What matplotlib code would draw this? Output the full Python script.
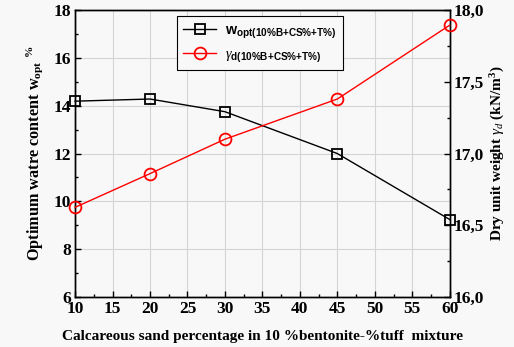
import matplotlib
matplotlib.use("Agg")
import matplotlib.pyplot as plt
from matplotlib.ticker import MultipleLocator, FuncFormatter
from matplotlib.lines import Line2D

sand = [10, 20, 30, 45, 60]
w_opt = [14.19, 14.28, 13.75, 12.0, 9.24]
gamma_d = [16.625, 16.86, 17.10, 17.38, 17.895]

serif = "Liberation Serif"
sans = "Liberation Sans"
plt.rcParams["mathtext.fontset"] = "custom"
plt.rcParams["mathtext.rm"] = serif
plt.rcParams["mathtext.it"] = serif + ":italic"
plt.rcParams["mathtext.bf"] = serif + ":bold"
plt.rcParams["mathtext.sf"] = sans + ":bold"

fig = plt.figure(figsize=(5.14, 3.47), dpi=100)
fig.patch.set_facecolor("#f8f8f8")
ax = fig.add_axes([0.146, 0.144, 0.729, 0.827])
ax.set_facecolor("#f8f8f8")
ax2 = ax.twinx()

ax.plot(sand, w_opt, color="black", lw=1.0, marker="s", ms=7.5, mfc="none", mec="black", mew=1.3, clip_on=False, zorder=3)
ax2.plot(sand, gamma_d, color="red", lw=1.0, marker="o", ms=8.5, mfc="none", mec="red", mew=1.3, clip_on=False, zorder=3)

ax.set_xlim(10, 60)
ax.set_ylim(6, 18)
ax2.set_ylim(16, 18)

ax.xaxis.set_major_locator(MultipleLocator(5))
ax.xaxis.set_minor_locator(MultipleLocator(2.5))
ax.yaxis.set_major_locator(MultipleLocator(2))
ax.yaxis.set_minor_locator(MultipleLocator(1))
ax2.yaxis.set_major_locator(MultipleLocator(0.5))
ax2.yaxis.set_minor_locator(MultipleLocator(0.25))
ax2.yaxis.set_major_formatter(FuncFormatter(lambda v, p: f"{v:.1f}".replace(".", ",")))

ax.grid(True, which="major", color="#d4d4d4", lw=0.8)
ax.set_axisbelow(True)

for a in (ax, ax2):
    a.tick_params(which="major", direction="in", length=4, width=1, pad=3)
    a.tick_params(which="minor", direction="in", length=2, width=1)
    for s in a.spines.values():
        s.set_linewidth(1.0)
ax.tick_params(top=False, which="both")

for lab in ax.get_xticklabels() + ax.get_yticklabels() + ax2.get_yticklabels():
    lab.set_fontfamily(serif)
    lab.set_fontweight("bold")
    lab.set_fontsize(12.5)

ax.set_xlabel("Calcareous sand percentage in 10 %bentonite-%tuff  mixture",
              fontfamily=serif, fontweight="bold", fontsize=11, labelpad=9)
ax.set_ylabel(r"Optimum watre content w$_{\mathbf{opt}}$ $^{\mathbf{\%}}$",
              fontfamily=serif, fontweight="bold", fontsize=11.7, labelpad=6)
ax2.set_ylabel(r"Dry unit weight $\gamma_d$ (kN/m$^{\mathbf{3}}$)",
               fontfamily=serif, fontweight="bold", fontsize=11, labelpad=3)

h1 = Line2D([], [], color="black", lw=1.0, marker="s", ms=7.5, mfc="none", mec="black", mew=1.3)
h2 = Line2D([], [], color="red", lw=1.0, marker="o", ms=8.5, mfc="none", mec="red", mew=1.3)
leg = ax.legend([h1, h2],
                [r"$\mathsf{w}_{\mathsf{opt(10\%B{+}CS\%{+}T\%)}}$",
                 r"$\gamma_{\mathsf{d(10\%B{+}CS\%{+}T\%)}}$"],
                loc="upper left", bbox_to_anchor=(0.272, 0.979), borderaxespad=0,
                frameon=True, fancybox=False,
                edgecolor="black", framealpha=1, handlelength=2.3, handletextpad=0.6,
                borderpad=0.45, labelspacing=0.5,
                prop={"family": sans, "weight": "bold", "size": 10.3})
leg.get_frame().set_linewidth(0.8)
leg.get_frame().set_facecolor("#f8f8f8")

fig.savefig("out.png", dpi=100, facecolor=fig.get_facecolor())
